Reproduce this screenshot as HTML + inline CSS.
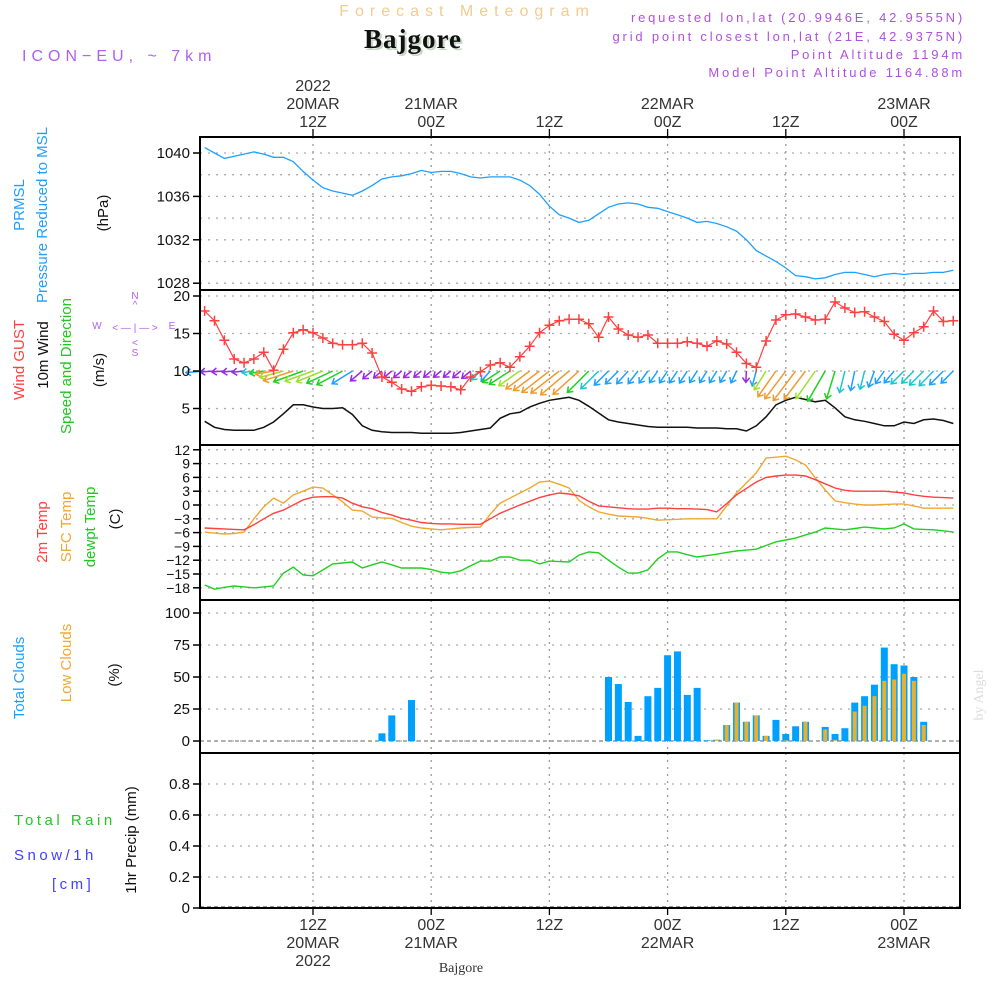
<!DOCTYPE html>
<html><head><meta charset="utf-8"><style>
html,body{margin:0;padding:0;background:#fff;}
svg{display:block;font-family:"Liberation Sans",sans-serif;}
</style></head><body>
<svg id="chart" width="1000" height="1000" viewBox="0 0 1000 1000" xmlns="http://www.w3.org/2000/svg">
<g id="static">
<text x="467" y="16" text-anchor="middle" font-size="16" fill="#f2cc90" letter-spacing="6">Forecast Meteogram</text>
<text x="415" y="50" text-anchor="middle" font-size="27" font-weight="bold" font-family="Liberation Serif,serif" fill="#c8d8c8" letter-spacing="1">Bajgore</text>
<text x="413" y="48" text-anchor="middle" font-size="27" font-weight="bold" font-family="Liberation Serif,serif" fill="#111" letter-spacing="1">Bajgore</text>
<text x="22" y="61" font-size="16" fill="#b060f0" letter-spacing="5">ICON−EU, ~ 7km</text>
<g font-size="13" fill="#b050e0" text-anchor="end" letter-spacing="2.8">
<text x="965" y="22">requested lon,lat (20.9946E, 42.9555N)</text>
<text x="965" y="41">grid point closest lon,lat (21E, 42.9375N)</text>
<text x="965" y="59">Point Altitude 1194m</text>
<text x="965" y="77">Model Point Altitude 1164.88m</text>
</g>
<text transform="translate(983,695) rotate(-90)" text-anchor="middle" font-size="14" font-family="Liberation Serif,serif" fill="#ddd">by Angel</text>
<text x="461" y="972" text-anchor="middle" font-size="14" font-family="Liberation Serif,serif" fill="#333">Bajgore</text>
<g font-size="15">
<text transform="translate(24,205) rotate(-90)" text-anchor="middle" fill="#1ea0ff">PRMSL</text>
<text transform="translate(47,215) rotate(-90)" text-anchor="middle" fill="#1ea0ff">Pressure Reduced to MSL</text>
<text transform="translate(108,213) rotate(-90)" text-anchor="middle" fill="#111">(hPa)</text>
<text transform="translate(24,360) rotate(-90)" text-anchor="middle" fill="#ff4040">Wind GUST</text>
<text transform="translate(48,355) rotate(-90)" text-anchor="middle" fill="#111">10m Wind</text>
<text transform="translate(71,366) rotate(-90)" text-anchor="middle" fill="#20c820">Speed and Direction</text>
<text transform="translate(104,370) rotate(-90)" text-anchor="middle" fill="#111">(m/s)</text>
<text transform="translate(47,532) rotate(-90)" text-anchor="middle" fill="#ff4040">2m Temp</text>
<text transform="translate(71,527) rotate(-90)" text-anchor="middle" fill="#f0a830">SFC Temp</text>
<text transform="translate(95,527) rotate(-90)" text-anchor="middle" fill="#20c820">dewpt Temp</text>
<text transform="translate(120,519) rotate(-90)" text-anchor="middle" fill="#111">(C)</text>
<text transform="translate(24,678) rotate(-90)" text-anchor="middle" fill="#1ea0ff">Total Clouds</text>
<text transform="translate(71,663) rotate(-90)" text-anchor="middle" fill="#f0a830">Low Clouds</text>
<text transform="translate(119,675) rotate(-90)" text-anchor="middle" fill="#111">(%)</text>
<text transform="translate(136,840) rotate(-90)" text-anchor="middle" fill="#111">1hr Precip (mm)</text>
<text x="14" y="825" fill="#20c820" letter-spacing="3.5">Total  Rain</text>
<text x="14" y="860" fill="#4040ff" letter-spacing="3.5">Snow/1h</text>
<text x="52" y="889" fill="#4040ff" letter-spacing="3.5">[cm]</text>
</g>
<g fill="#b060f0" font-size="10" text-anchor="middle">
<text x="135" y="299">N</text><text x="135" y="308">^</text>
<text x="97" y="329">W</text><text x="135" y="331">&lt; — | — &gt;</text><text x="172" y="329">E</text>
<text x="135" y="346">&lt;</text><text x="135" y="356">S</text>
</g>
</g>
<g id="grid"></g>
<g id="marks"></g>
<g id="frames"></g>
</svg>
<script>
const hours = [];for(let i=1;i<=77;i++)hours.push(i);
const pressure=[1040.5,1040.0,1039.5,1039.7,1039.9,1040.1,1039.9,1039.6,1039.6,1039.2,1038.3,1037.5,1036.8,1036.5,1036.3,1036.1,1036.5,1037.0,1037.6,1037.8,1037.9,1038.1,1038.4,1038.2,1038.3,1038.3,1038.1,1037.8,1037.7,1037.8,1037.8,1037.8,1037.5,1037.0,1036.2,1035.1,1034.3,1034.0,1033.6,1033.8,1034.4,1035.0,1035.3,1035.4,1035.3,1035.0,1034.9,1034.6,1034.3,1034.0,1033.6,1033.7,1033.5,1033.2,1032.8,1032.0,1031.0,1030.5,1030.0,1029.4,1028.7,1028.6,1028.4,1028.5,1028.8,1029.0,1029.0,1028.8,1028.6,1028.8,1028.9,1028.8,1028.9,1028.9,1029.0,1029.0,1029.2];
const gust=[18.0,16.7,14.1,11.6,11.1,11.6,12.5,10.1,12.9,15.1,15.5,15.1,14.4,13.7,13.5,13.5,13.7,12.4,9.2,8.5,7.6,7.3,7.9,8.1,8.0,7.9,7.5,9.2,9.9,10.8,11.1,10.5,11.9,13.3,15.1,16.1,16.7,16.9,16.9,16.3,14.5,17.2,15.6,14.8,14.5,14.8,13.7,13.7,13.7,13.9,13.7,13.3,14.0,13.6,12.5,11.0,10.5,14.0,16.8,17.5,17.6,17.2,16.8,16.9,19.2,18.4,17.8,17.9,17.2,16.6,14.9,14.1,15.1,15.9,18.0,16.6,16.7];
const wind=[3.3,2.5,2.2,2.1,2.1,2.1,2.5,3.2,4.3,5.5,5.5,5.2,5.0,5.0,5.1,4.2,2.7,2.1,1.9,1.8,1.8,1.8,1.7,1.7,1.7,1.7,1.8,2.0,2.2,2.4,3.7,4.3,4.5,5.2,5.7,6.1,6.3,6.5,6.1,5.3,4.4,3.5,3.2,3.0,2.8,2.6,2.5,2.5,2.5,2.5,2.4,2.4,2.4,2.3,2.3,2.0,2.7,3.9,5.5,6.1,6.5,6.2,5.9,6.1,5.1,3.9,3.5,3.3,3.0,2.7,2.7,3.2,3.0,3.5,3.6,3.4,3.0];
const windDir=[85,86,86,85,84,82,80,80,75,72,70,70,68,65,62,58,50,50,50,50,50,50,50,50,50,50,50,50,45,42,57,57,55,53,53,52,52,50,48,45,45,45,45,42,38,36,35,34,34,33,33,32,32,30,25,3,15,32,35,37,37,37,35,30,17,14,12,14,20,35,40,45,45,45,44,45,45];
const windCol=['B','P','P','P','P','C','G','O','Y','O','G','Y','Y','G','G','B','P','P','P','P','P','P','P','P','P','P','P','P','C','B','G','G','Y','O','O','O','O','O','O','G','C','B','B','B','B','B','B','B','B','B','B','B','B','B','B','P','B','Y','O','O','O','O','Y','G','G','C','B','C','B','B','B','C','C','C','C','B','B'];
const t2m=[-5.0,-5.1,-5.2,-5.3,-5.4,-4.3,-3.0,-1.8,-1.1,0.0,1.1,1.7,1.8,1.8,1.5,0.4,-0.4,-0.8,-1.6,-2.2,-2.9,-3.3,-3.8,-4.0,-4.1,-4.1,-4.2,-4.2,-4.2,-3.0,-1.8,-0.9,0.0,0.8,1.6,2.2,2.6,2.4,2.0,0.8,-0.2,-0.4,-0.6,-0.8,-0.9,-0.9,-0.7,-0.7,-0.8,-0.8,-0.9,-1.0,-1.5,0.3,2.2,3.6,5.0,6.0,6.3,6.5,6.5,6.3,5.5,4.6,3.7,3.2,3.0,3.0,3.0,3.0,2.8,2.6,2.2,1.9,1.7,1.6,1.5];
const sfcT=[-5.9,-6.1,-6.3,-6.2,-5.9,-3.0,-0.4,1.5,0.4,2.2,3.0,3.9,3.7,2.2,0.7,-1.1,-1.3,-2.6,-2.8,-2.9,-3.8,-4.6,-5.0,-5.2,-5.4,-5.2,-5.0,-4.9,-4.8,-2.0,0.4,1.5,2.6,3.7,5.0,5.2,4.5,3.7,1.0,-0.4,-1.5,-2.0,-2.4,-2.5,-2.6,-2.9,-3.3,-3.2,-3.1,-3.0,-3.0,-3.0,-3.0,-0.2,2.6,4.8,7.0,10.2,10.4,10.6,9.8,8.7,5.9,3.3,0.9,0.5,0.2,0.0,0.0,0.1,0.2,0.2,-0.2,-0.7,-0.7,-0.7,-0.7];
const dewT=[-17.4,-18.3,-17.9,-17.6,-17.8,-18.0,-17.8,-17.6,-14.8,-13.5,-15.2,-15.4,-14.1,-12.8,-12.6,-12.4,-13.7,-13.0,-12.4,-13.0,-13.7,-13.7,-13.7,-14.0,-14.6,-14.8,-14.3,-13.2,-12.2,-12.2,-11.3,-11.3,-12.0,-12.0,-12.8,-12.2,-12.3,-12.4,-10.9,-10.2,-10.4,-12.0,-13.5,-14.8,-14.8,-14.1,-11.7,-10.2,-10.2,-10.8,-11.3,-11.0,-10.7,-10.3,-10.0,-9.8,-9.6,-8.8,-8.0,-7.6,-7.2,-6.5,-5.9,-5.0,-5.2,-5.4,-5.1,-4.8,-5.0,-5.2,-5.0,-4.1,-5.2,-5.3,-5.4,-5.6,-5.9];
const totalClouds=[0,0,0,0,0,0,0,0,0,0,0,0,0,0,0,0,0,0,6,20,0,32,0,0,0,0,0,0,0,0,0,0,0,0,0,0,0,0,0,0,0,50,44.5,30.5,4,35,41.5,67,70,36,41.5,0.5,1,12.5,30,15,20,4,16.5,5.5,11.5,15,0,11,5.5,10,30,35,44,73,60,59,50,15,0,0,0];
const lowClouds=[0,0,0,0,0,0,0,0,0,0,0,0,0,0,0,0,0,0,0,0,0,0,0,0,0,0,0,0,0,0,0,0,0,0,0,0,0,0,0,0,0,0,0,0,0,0,0,0,0,0,0,0,1,12.5,30,15,20,4,0,0.5,0,15,0,9,1,0,23,27.5,35,47,48,52.5,47,12.5,0,0,0];
const precip=new Array(77).fill(0);
const timeTicks=[{h:12,top:['2022','20MAR','12Z'],bot:['12Z','20MAR','2022']},{h:24,top:['21MAR','00Z'],bot:['00Z','21MAR']},{h:36,top:['12Z'],bot:['12Z']},{h:48,top:['22MAR','00Z'],bot:['00Z','22MAR']},{h:60,top:['12Z'],bot:['12Z']},{h:72,top:['23MAR','00Z'],bot:['00Z','23MAR']}];
const pTicks=[1028,1032,1036,1040];
const wTicks=[5,10,15,20];
const tTicks=[-18,-15,-12,-9,-6,-3,0,3,6,9,12];
const cTicks=[0,25,50,75,100];
const rTicks=[0,0.2,0.4,0.6,0.8];

const NS='http://www.w3.org/2000/svg';
const X0=200,X1=960;
const xOf=h=>313+(h-12)*9.85;
const yP=v=>153-(v-1040)*10.85;
const yW=v=>446-v*7.5;
const yT=v=>505-v*4.6;
const yC=v=>741-v*1.28;
const yR=v=>908-v*155;
const palette={P:'#9a28e6',B:'#1ea0ff',C:'#18c8d0',G:'#20d020',Y:'#a0e030',O:'#f09a30'};
function el(tag,attrs,parent){const e=document.createElementNS(NS,tag);for(const k in attrs)e.setAttribute(k,attrs[k]);parent.appendChild(e);return e;}
const grid=document.getElementById('grid'),marks=document.getElementById('marks'),frames=document.getElementById('frames');
const panels=[{t:137,b:290,ticks:pTicks,f:yP,fmt:v=>String(v),minor:[1030,1034,1038]},{t:290,b:445,ticks:wTicks,f:yW,fmt:v=>String(v)},{t:445,b:600,ticks:tTicks,f:yT,fmt:v=>String(v)},{t:600,b:753,ticks:cTicks,f:yC,fmt:v=>String(v)},{t:753,b:908,ticks:rTicks,f:yR,fmt:v=>v===0?'0':v.toFixed(1)}];
panels.forEach((p,pi)=>{
  timeTicks.forEach(tk=>{
    const l=el('line',{x1:xOf(tk.h),x2:xOf(tk.h),y1:p.t,y2:p.b,stroke:'#999','stroke-width':1.3,'stroke-dasharray':'2 5'},grid);
    
    
  });
  p.ticks.concat(p.minor||[]).forEach(v=>{
    const y=p.f(v);
    const l=el('line',{x1:X0,x2:X1,y1:y,y2:y,stroke:'#aaa','stroke-width':1.3,'stroke-dasharray':'2 6'},grid);
    
    
  });
  p.ticks.forEach(v=>{
    const y=p.f(v);
    el('line',{x1:X0-7,x2:X0,y1:y,y2:y,stroke:'#000','stroke-width':1.5},frames);
    const t=el('text',{x:X0-10,y:y+5,'text-anchor':'end','font-size':pi==2?14:15,fill:'#111'},frames);
    t.textContent=p.fmt(v).replace('-','−');
    
    
  });
  const r=el('rect',{x:X0,y:p.t,width:X1-X0,height:p.b-p.t,fill:'none',stroke:'#000','stroke-width':2},frames);
  
  
});
timeTicks.forEach(tk=>{
  const x=xOf(tk.h);
  el('line',{x1:x,x2:x,y1:129,y2:137,stroke:'#000','stroke-width':1.3},frames);
  el('line',{x1:x,x2:x,y1:908,y2:915,stroke:'#000','stroke-width':1.3},frames);
  tk.top.forEach((s,i)=>{
    const t=el('text',{x:x,y:127-(tk.top.length-1-i)*18,'text-anchor':'middle','font-size':16,fill:'#333'},frames);
    t.textContent=s;
    
    
  });
  tk.bot.forEach((s,i)=>{
    const t=el('text',{x:x,y:930+i*18,'text-anchor':'middle','font-size':16,fill:'#333'},frames);
    t.textContent=s;
    
    
  });
});
function line(arr,f,color,name,w){
  const d=arr.map((v,i)=>(i?'L':'M')+xOf(hours[i]).toFixed(1)+' '+f(v).toFixed(1)).join(' ');
  const p=el('path',{d:d,fill:'none',stroke:color,'stroke-width':w||1.4},marks);
  
  
}
el('line',{x1:X0,x2:X1,y1:yC(0),y2:yC(0),stroke:'#999','stroke-width':1.5,'stroke-dasharray':'4 3'},marks);
totalClouds.forEach((v,i)=>{
  const x=xOf(hours[i]);
  if(v>0){
    const r=el('rect',{x:x-3.5,y:yC(v),width:7,height:yC(0)-yC(v),fill:'#00a0ff'},marks);
    
    
  }
  const lv=lowClouds[i];
  if(lv>0){
    const r2=el('rect',{x:x-2,y:yC(lv),width:4,height:yC(0)-yC(lv),fill:'#e8b030'},marks);
    
    
  }
});
el('line',{x1:X0,x2:X1,y1:yR(0)-1,y2:yR(0)-1,stroke:'#333','stroke-width':1,'stroke-dasharray':'4 3'},marks);
precip.forEach((v,i)=>{if(v>0){const r=el('rect',{x:xOf(hours[i])-3,y:yR(v),width:6,height:yR(0)-yR(v),fill:'#20c820'},marks);}});
line(pressure,yP,'#1ea0ff','pressure-line',1.3);
line(sfcT,yT,'#eea830','sfc-temp-line');
line(t2m,yT,'#ff4040','t2m-line');
line(dewT,yT,'#20d020','dewpoint-line');
line(wind,yW,'#111','wind-speed-line',1.5);
wind.forEach((v,i)=>{
  const x=xOf(hours[i]),y=yW(10),L=v*5.7,a=windDir[i]*Math.PI/180;
  const dx=-Math.sin(a)*L,dy=Math.cos(a)*L,x2=x+dx,y2=y+dy;
  const ang=Math.atan2(dy,dx),hl=6;
  const c=palette[windCol[i]];
  const d=`M${x} ${y} L${x2} ${y2} M${x2+hl*Math.cos(ang+2.5)} ${y2+hl*Math.sin(ang+2.5)} L${x2} ${y2} L${x2+hl*Math.cos(ang-2.5)} ${y2+hl*Math.sin(ang-2.5)}`;
  const p=el('path',{d:d,fill:'none',stroke:c,'stroke-width':1.5},marks);
  
  
});
line(gust,yW,'#ff4040','gust-line',1.2);
gust.forEach((v,i)=>{
  const x=xOf(hours[i]),y=yW(v);
  const p=el('path',{d:`M${x-5} ${y} L${x+5} ${y} M${x} ${y-5} L${x} ${y+5}`,stroke:'#ff4040','stroke-width':1.5},marks);
  
  
});
</script>
</body></html>
